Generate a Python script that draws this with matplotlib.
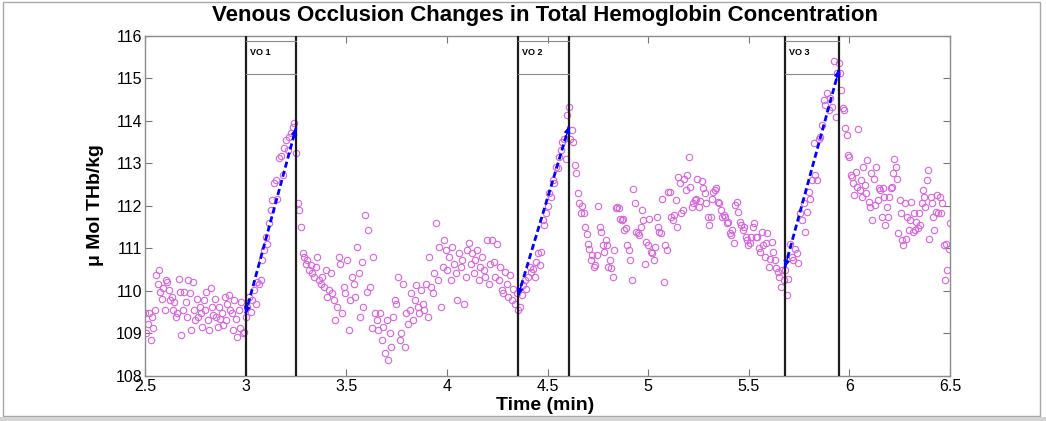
import numpy as np
import matplotlib
matplotlib.use("Agg")
import matplotlib.pyplot as plt
from matplotlib.patches import Rectangle

# ---------------- data ----------------
title_text = "Venous Occlusion Changes in Total Hemoglobin Concentration"
xlabel_text = "Time (min)"
ylabel_text = "\u03bc Mol THb/kg"

x_ticks = [2.5, 3, 3.5, 4, 4.5, 5, 5.5, 6, 6.5]
x_tick_labels = ["2.5", "3", "3.5", "4", "4.5", "5", "5.5", "6", "6.5"]
y_ticks = [108, 109, 110, 111, 112, 113, 114, 115, 116]
y_tick_labels = ["108", "109", "110", "111", "112", "113", "114", "115", "116"]

vo_labels = ["VO 1", "VO 2", "VO 3"]
vo_start = [3.0, 4.355, 5.68]
vo_end = [3.25, 4.607, 5.948]
vo_box_low = 115.09
vo_box_high = 115.86

arrow_y_start = [109.47, 109.90, 110.56]
arrow_y_end = [113.82, 113.86, 115.19]

# segment time spans (min)
seg_bounds = [2.5, 3.0, 3.25, 4.355, 4.607, 5.68, 5.948, 6.5]

y_pre = [109.47, 109.00, 109.23, 109.47, 108.84, 109.39, 109.12, 109.55,
         110.37, 110.17, 110.49, 109.98, 109.82, 110.06, 109.55, 110.25,
         110.21, 110.02, 109.78, 109.86, 109.55, 109.74, 109.39, 109.47, 110.29, 109.98,
         108.96, 109.55, 109.98, 109.74, 109.39, 110.25, 109.94, 109.08, 110.21, 109.55, 109.31, 109.82,
         109.39, 109.62, 109.47, 109.16, 109.78, 109.55, 109.98, 109.31, 109.08, 110.06, 109.62, 109.43,
         109.82, 109.39, 109.16, 109.62, 109.35, 109.47, 109.20, 109.86, 109.31, 109.70, 109.90, 109.55,
         109.47, 109.08, 109.78, 109.35, 108.92, 109.55, 109.12, 109.74, 109.00, 109.04]

y_vo1 = [109.39, 109.62, 109.86, 109.51, 109.78, 110.02, 109.70, 110.20, 110.15, 110.25,
         110.73, 110.96, 111.27, 111.11, 111.59, 111.90, 112.14, 112.53, 112.60, 112.17,
         113.13, 113.16, 112.72, 113.35, 113.55, 113.31, 113.62, 113.70, 113.86, 113.94]

y_mid1 = [113.23, 112.06, 111.90, 111.51, 110.88, 110.80, 110.64, 110.72, 110.49, 110.60,
          110.41, 110.33, 110.57, 110.80, 110.25, 110.17, 110.33, 110.09, 110.49, 109.86, 110.02, 110.41, 109.94, 109.78,
          109.31, 109.62, 110.80, 110.64, 109.47, 110.09, 109.94, 110.72, 109.08, 109.78, 110.33, 110.17,
          109.86, 111.04, 110.41, 109.39, 110.68, 109.62, 111.78, 109.98, 111.43, 110.09, 109.12, 110.80, 109.47, 109.31,
          109.08, 109.47, 108.84, 109.16, 108.53, 109.31, 108.37, 109.00, 108.69, 109.39, 109.78,
          109.70, 110.33, 108.84, 109.00, 110.17, 108.69, 109.47, 109.23, 109.55, 109.94,
          109.31, 109.78, 110.13, 109.62, 109.47, 110.02, 109.70, 109.55, 110.17, 109.39,
          110.80, 110.09, 109.94, 110.41, 111.60, 110.25, 111.04, 109.62, 110.57, 111.20,
          110.96, 110.49, 110.80, 110.25, 111.04, 110.64, 110.41, 109.78, 110.88, 110.57, 110.72, 109.70, 110.33, 110.96,
          111.12, 110.64, 110.88, 110.41, 110.72, 110.96, 110.25, 110.57, 110.80, 110.49, 110.33, 111.20, 110.17, 110.64,
          111.19, 110.68, 110.33, 111.11, 110.25, 110.56, 110.02, 109.94, 110.45, 110.17, 109.86, 110.37, 109.78, 110.05,
          109.70, 109.94]

y_vo2 = [109.55, 109.62, 109.90, 110.13, 110.25, 110.05, 110.33, 110.56, 110.45, 110.52,
         110.33, 110.68, 110.88, 110.60, 110.92, 111.66, 111.55, 111.82, 111.99, 112.29,
         112.21, 112.61, 112.53, 112.92, 112.88, 113.15, 113.31, 113.49, 113.57, 113.10, 114.13]

y_mid2 = [114.32, 113.57, 113.78, 113.49, 112.96, 112.76, 112.30, 112.06, 111.82, 111.99,
          111.82, 111.51, 111.33, 111.11, 110.99, 110.72, 110.84, 110.56, 110.60, 110.84,
          112.00, 111.51, 111.39, 111.08, 110.92, 111.19, 111.08, 110.57, 110.72, 110.53, 110.33, 110.96,
          111.94, 111.98, 111.94, 111.70, 111.66, 111.70, 111.43, 111.47, 111.08, 110.96, 110.72, 110.25,
          112.39, 112.06, 111.39, 111.35, 111.31, 111.51, 111.90, 111.66, 110.64, 111.15, 111.08, 111.70,
          110.92, 110.88, 110.72, 111.04, 111.74, 111.51, 111.39, 111.35, 112.17, 110.21, 111.08, 110.96,
          112.33, 112.33, 111.74, 111.66, 111.78, 112.14, 111.51, 112.68, 112.53, 111.82, 111.90,
          112.64, 112.37, 112.72, 113.15, 112.45, 111.98, 112.06, 112.14, 112.17, 112.64,
          111.98, 112.10, 112.57, 112.41, 112.29, 112.06, 111.74, 111.55, 111.74, 112.17,
          112.33, 112.37, 112.41, 112.09, 112.06, 111.90, 111.74, 111.78, 111.74, 111.59, 111.62, 111.35, 111.31, 111.43, 111.12,
          112.02, 112.09, 111.86, 111.62, 111.55, 111.43, 111.51, 111.27, 111.19, 111.08, 111.12, 111.27, 111.51,
          111.59, 111.27, 111.27, 111.00, 110.92, 111.39, 111.08, 110.80, 111.12, 111.35, 110.57, 110.76,
          111.15, 110.92, 110.72, 110.53, 110.45, 110.33, 110.10, 110.49, 110.25]

y_vo3 = [110.49, 109.90, 110.29, 111.10, 110.80, 110.72, 110.99, 110.88, 110.65, 111.82,
         111.66, 112.06, 111.39, 111.86, 112.33, 112.17, 112.60, 113.47, 112.72, 112.60,
         113.58, 113.62, 113.90, 114.49, 114.37, 114.64, 114.25, 114.53, 114.33, 115.39,
         114.09, 115.11]

y_post = [115.35, 115.11, 114.72, 114.29, 114.25, 113.82, 113.66, 113.19, 113.15,
          112.72, 112.68, 112.53, 112.25, 112.80, 112.45, 113.80, 112.37, 112.60, 112.21, 112.92, 112.49, 112.29, 113.07, 112.09, 111.98,
          112.76, 111.66, 112.64, 112.02, 112.92, 112.13, 112.41, 112.37, 111.74, 112.41, 112.21, 111.55, 111.98, 111.74,
          112.21, 112.41, 112.45, 112.76, 113.11, 112.92, 112.64, 111.35, 112.13, 111.82, 111.19, 111.08, 112.06, 111.23,
          111.74, 111.43, 111.66, 112.09, 111.39, 111.82, 111.43, 111.62, 111.47, 111.82, 111.55, 112.06, 112.37, 112.21, 111.98,
          112.60, 112.84, 111.23, 112.21, 112.06, 111.74, 111.43, 111.86, 112.25, 111.82, 112.21, 111.82, 112.06, 111.08,
          110.25, 111.11, 110.49, 110.99, 111.59]

segments = [y_pre, y_vo1, y_mid1, y_vo2, y_mid2, y_vo3, y_post]

# ---------------- figure ----------------
W, H = 1046, 421
fig = plt.figure(figsize=(W / 100, H / 100), dpi=100)
fig.patch.set_facecolor("white")
FONT = "Liberation Sans"

ax = fig.add_axes([145 / W, 1 - 376 / H, 805 / W, 340.5 / H])

times, vals = [], []
for i, seg in enumerate(segments):
    last = (i == len(segments) - 1)
    t = np.linspace(seg_bounds[i], seg_bounds[i + 1], len(seg), endpoint=last)
    times.extend(t)
    vals.extend(seg)

ax.plot(times, vals, linestyle="none", marker="o", markersize=4.6,
        markerfacecolor="none", markeredgecolor="#d963e0", markeredgewidth=0.8, zorder=2)

for lab, s, e, ys, ye in zip(vo_labels, vo_start, vo_end, arrow_y_start, arrow_y_end):
    ax.axvline(s, color="#1c1c1c", lw=1.6, zorder=3)
    ax.axvline(e, color="#1c1c1c", lw=1.6, zorder=3)
    ax.plot([s, e], [vo_box_low, vo_box_low], color="#8a8a8a", lw=0.8, zorder=3)
    ax.plot([s, e], [vo_box_high, vo_box_high], color="#8a8a8a", lw=0.8, zorder=3)
    ax.text(s + 0.02, (vo_box_low + vo_box_high) / 2 + 0.12, lab, fontsize=6.5,
            fontweight="bold", family=FONT, ha="left", va="center", zorder=4)
    ax.plot([s, e], [ys, ye], color="#0000ff", lw=2.0, linestyle=(0, (2.2, 1.2)), zorder=4)
    dx, dy = e - s, ye - ys
    ax.annotate("", xy=(e, ye), xytext=(e - 0.06 * dx, ye - 0.06 * dy),
                arrowprops=dict(arrowstyle="-|>", color="#0000ff", lw=1.0,
                                mutation_scale=9, shrinkA=0, shrinkB=0), zorder=5)
    ax.annotate("", xy=(s, ys), xytext=(s + 0.06 * dx, ys + 0.06 * dy),
                arrowprops=dict(arrowstyle="-|>", color="#0000ff", lw=1.0,
                                mutation_scale=9, shrinkA=0, shrinkB=0), zorder=5)

ax.set_xlim(2.5, 6.5)
ax.set_ylim(108, 116)
ax.set_xticks(x_ticks)
ax.set_xticklabels(x_tick_labels)
ax.set_yticks(y_ticks)
ax.set_yticklabels(y_tick_labels)
ax.tick_params(direction="in", length=5, width=0.8, color="#777777",
               top=True, right=True, labelsize=11.5, pad=2)
for lbl in ax.get_xticklabels() + ax.get_yticklabels():
    lbl.set_family(FONT)
for sp in ax.spines.values():
    sp.set_color("#8c8c8c")
    sp.set_linewidth(1.0)

fig.text(545 / W, 1 - 15 / H, title_text, ha="center", va="center",
         fontsize=16, fontweight="bold", family=FONT)
fig.text(545 / W, 1 - 405 / H, xlabel_text, ha="center", va="center",
         fontsize=14, fontweight="bold", family=FONT)
fig.text(96 / W, 1 - 205 / H, ylabel_text, ha="center", va="center", rotation=90,
         fontsize=14, fontweight="bold", family=FONT)

# outer frame of the screenshot
fig.add_artist(Rectangle((3 / W, 1 - 416 / H), 1037 / W, 414 / H, transform=fig.transFigure,
                         fill=False, edgecolor="#a8a8a8", lw=1.0))
fig.add_artist(Rectangle((0, 0), 1, 4 / H, transform=fig.transFigure,
                         facecolor="#d4d4d4", edgecolor="none"))

fig.savefig("out.png", dpi=100)
